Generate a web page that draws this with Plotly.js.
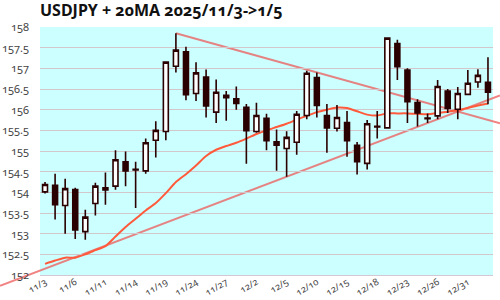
<!DOCTYPE html>
<html>
<head>
<meta charset="utf-8">
<script src="https://cdn.plot.ly/plotly-3.0.1.min.js"></script>
<style>
html,body{margin:0;padding:0;background:#fff;}
#chart{width:500px;height:300px;}
svg text{font-variant-numeric:oldstyle-nums;font-feature-settings:"onum" 1;}
</style>
</head>
<body>
<div id="chart"></div>
<script>
const dates = ['11/3','11/4','11/5','11/6','11/7','11/10','11/11','11/12','11/13','11/14',
  '11/17','11/18','11/19','11/20','11/21','11/24','11/25','11/26','11/27','11/28',
  '12/1','12/2','12/3','12/4','12/5','12/8','12/9','12/10','12/11','12/12',
  '12/15','12/16','12/17','12/18','12/19','12/22','12/23','12/24','12/25','12/26',
  '12/29','12/30','12/31','1/2','1/5'];
const tickLabels = ['11/3','11/6','11/11','11/14','11/19','11/24','11/27','12/2','12/5','12/10','12/15','12/18','12/23','12/26','12/31'];

const open  = [154.01,154.17,153.68,154.07,153.05,153.73,154.06,154.15,154.74,154.56,
  154.52,155.26,155.47,157.05,157.40,156.39,156.79,155.94,156.35,156.26,
  156.06,155.47,155.79,155.22,155.06,155.21,155.86,156.78,155.86,155.55,
  155.69,155.14,154.70,155.60,155.56,157.60,156.96,156.17,155.80,155.85,
  156.45,156.01,156.37,156.67,156.66];
const high  = [154.25,154.45,154.33,154.11,153.58,154.23,154.48,155.02,154.99,154.74,
  155.30,155.72,157.17,157.85,157.52,157.15,156.97,156.73,156.45,156.56,
  156.14,156.17,155.90,155.52,155.48,155.97,156.94,156.90,156.14,156.11,
  155.97,155.22,155.75,155.97,157.75,157.69,157.00,156.25,155.91,156.72,
  156.50,156.55,156.96,156.98,157.27];
const low   = [153.97,153.34,153.00,152.87,152.85,153.44,153.70,154.06,154.15,153.62,
  154.45,154.84,155.26,156.90,156.23,156.21,155.81,155.68,155.73,156.00,
  154.69,155.44,155.02,154.52,154.38,154.91,155.77,155.81,154.96,155.47,
  154.86,154.43,154.55,155.30,155.54,156.72,155.68,155.59,155.68,155.77,
  155.92,155.77,156.35,156.53,156.13];
const close = [154.19,153.70,154.09,153.09,153.40,154.15,154.11,154.79,154.52,154.54,
  155.20,155.50,157.15,157.44,156.36,156.89,156.09,156.42,156.29,156.15,
  155.49,155.86,155.25,155.14,155.33,155.89,156.88,156.10,155.56,155.81,
  155.25,154.74,155.66,155.58,157.73,157.04,156.19,155.92,155.78,156.56,
  156.03,156.39,156.64,156.83,156.42];
const ma20  = [152.27,152.35,152.42,152.42,152.50,152.60,152.70,152.93,153.16,153.36,
  153.56,153.74,153.98,154.25,154.44,154.65,154.88,155.03,155.12,155.20,
  155.30,155.41,155.50,155.58,155.66,155.76,155.85,155.94,156.00,156.05,
  156.04,155.96,155.88,155.86,155.91,155.91,155.91,155.90,155.89,155.92,
  155.95,155.99,156.04,156.10,156.15];

// trend lines: anchor points (category index, price)
const supportLine = [[0, 152.155], [24, 154.38]];
const resistLine  = [[13, 157.85], [44, 155.75]];

const Y0 = 152, Y1 = 158;
const W = 500, H = 300;
const M = {l: 40, r: 7, t: 27, b: 25};
const N = dates.length;
const plotW = W - M.l - M.r;

function lineAt(anchor, idx) {
  const [a, b] = anchor;
  return a[1] + (b[1] - a[1]) * (idx - a[0]) / (b[0] - a[0]);
}
function pxToIdx(px) { return px * N - 0.5; }
function idxToPx(i) { return (i + 0.5) / N; }
function valToPy(v) { return (v - Y0) / (Y1 - Y0); }

function trendShape(anchor, startIdx, pxEnd) {
  const i0 = startIdx;
  const i1 = pxToIdx(pxEnd);
  return {
    type: 'line', xref: 'paper', yref: 'paper', layer: 'below',
    x0: idxToPx(i0), y0: valToPy(lineAt(anchor, i0)),
    x1: pxEnd, y1: valToPy(lineAt(anchor, i1)),
    line: {color: 'rgba(238,90,90,0.75)', width: 2}
  };
}
const pxLeft = -M.l / plotW;
const pxRight = (W - M.l) / plotW;

const maTrace = {
  type: 'scatter', mode: 'lines', x: dates, y: ma20,
  line: {color: '#ff5a3c', width: 2, shape: 'spline', smoothing: 0.6},
  hoverinfo: 'skip', xaxis: 'x', yaxis: 'y'
};
const candle = {
  type: 'candlestick', x: dates, open: open, high: high, low: low, close: close,
  xaxis: 'x2', yaxis: 'y2',
  increasing: {line: {color: '#2a0000', width: 1.6}, fillcolor: '#ffffff'},
  decreasing: {line: {color: '#2a0000', width: 1.6}, fillcolor: '#2a0000'},
  whiskerwidth: 0, hoverinfo: 'skip'
};

const layout = {
  width: W, height: H,
  margin: M,
  paper_bgcolor: '#ffffff',
  plot_bgcolor: '#ccffff',
  showlegend: false,
  font: {family: 'Noto Sans, Open Sans, sans-serif', color: '#444'},
  title: {
    text: '<b>USDJPY + 20MA 2025/11/3->1/5</b>',
    font: {family: 'Noto Sans, Open Sans, sans-serif', size: 16, color: '#111'},
    x: 0, xref: 'paper', xanchor: 'left', y: 0.985, yanchor: 'top'
  },
  xaxis: {
    type: 'category', categoryorder: 'array', categoryarray: dates,
    range: [-0.5, N - 0.5],
    tickmode: 'array', tickvals: tickLabels, ticktext: tickLabels,
    tickangle: -30, tickfont: {size: 9.5, color: '#444'},
    ticklabelstandoff: -3,
    showgrid: false, zeroline: false,
    showline: true, linecolor: '#d4c8d4', linewidth: 1,
    rangeslider: {visible: false}, fixedrange: true
  },
  xaxis2: {
    type: 'category', overlaying: 'x', matches: 'x', visible: false,
    rangeslider: {visible: false}, fixedrange: true
  },
  yaxis: {
    range: [Y0, Y1], dtick: 0.5, tick0: 152,
    showgrid: true, gridcolor: '#d2c8cc', gridwidth: 1,
    zeroline: false, showline: false,
    tickfont: {size: 11, color: '#444'},
    ticklabelstandoff: 10, fixedrange: true
  },
  yaxis2: {
    range: [Y0, Y1], overlaying: 'y', matches: 'y', visible: false, fixedrange: true
  },
  shapes: [
    trendShape(supportLine, pxToIdx(pxLeft), pxRight),
    trendShape(resistLine, resistLine[0][0], pxRight)
  ]
};

Plotly.newPlot('chart', [maTrace, candle], layout, {staticPlot: true, displayModeBar: false});
</script>
</body>
</html>
